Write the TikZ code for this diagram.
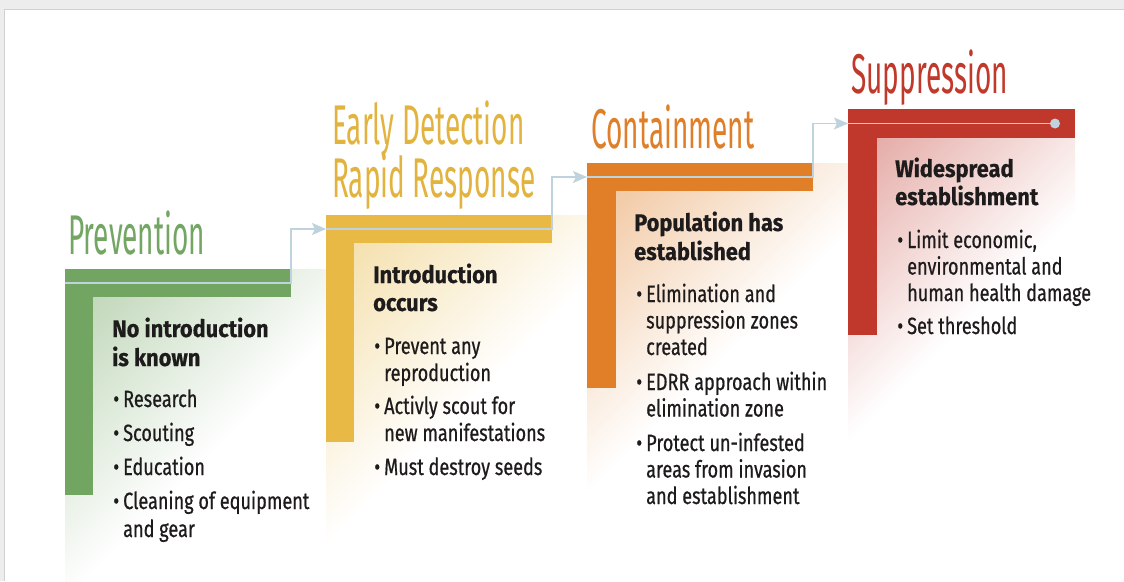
\documentclass[tikz,border=0pt]{standalone}
\usepackage{fontspec}
\usetikzlibrary{arrows.meta}
\newfontfamily\titlefont[FakeStretch=0.5]{Fira Sans}
\newfontfamily\bodyfont[FakeStretch=0.77,FakeBold=0.6]{Fira Sans}
\newfontfamily\headfont[FakeStretch=0.91,FakeBold=0.5]{Fira Sans}
\definecolor{cgreen}{HTML}{72A562}
\definecolor{cyellow}{HTML}{E8B944}
\definecolor{corange}{HTML}{E07F27}
\definecolor{cred}{HTML}{C0372B}
\definecolor{tgreen}{HTML}{73A663}
\definecolor{tyellow}{HTML}{E2B33F}
\definecolor{torange}{HTML}{DF7F2A}
\definecolor{tred}{HTML}{C1392B}
\definecolor{cline}{HTML}{BFD3DF}
\definecolor{ctext}{HTML}{1E1B1C}
\newcommand\mlines[2]{\vtop{\baselineskip=#1\relax\lineskiplimit=-20pt\relax #2}}
\newcommand\bul{\llap{•\hspace{4pt}}}
\newcommand\fadeRegion[5]{%
  \begin{scope}
    \clip (#2,#3) rectangle (#4,#5);
    \begin{scope}[transform canvas={shift={(#2,#3)},rotate=-45}]
      \shade[left color=#1, right color=white] (0,-700) rectangle (235,700);
    \end{scope}
  \end{scope}}
\tikzset{
  band/.style={fill=#1, draw=none, inner sep=0pt, outer sep=0pt, anchor=north west},
  titletext/.style={font=\titlefont\fontsize{56}{60}\selectfont, text=#1, inner sep=0pt, anchor=base west},
  headtext/.style={font=\headfont\bfseries\fontsize{24}{29}\selectfont, text=ctext, inner sep=0pt, anchor=base west},
  bodytext/.style={font=\bodyfont\fontsize{23.5}{28}\selectfont, text=ctext, inner sep=0pt, anchor=base west},
  conn/.style={draw=cline, line width=1.8pt},
  connarrow/.style={conn, -{Stealth[length=14pt,width=12pt,inset=3pt]}}
}
\begin{document}
\begin{tikzpicture}[x=1pt,y=-1pt]
\useasboundingbox (0,0) rectangle (1124,581);
\fill[black!7] (0,0) rectangle (1124,581);
\fill[white] (4,9) rectangle (1124,581);
\draw[black!18, line width=1pt] (4,581) -- (4,9) -- (1124,9);

% soft gradient areas
\fadeRegion{cgreen!52!white}{65}{269}{326}{581}
\fadeRegion{cyellow!52!white}{326}{215}{587}{581}
\fadeRegion{corange!50!white}{587}{163}{848}{581}
\fadeRegion{cred!50!white}{848}{109}{1075}{581}

% L-shaped bands
\node[band=cgreen, minimum width=28pt, minimum height=226pt] (gvband) at (65,269) {};
\node[band=cgreen, minimum width=226pt, minimum height=28pt] (gband) at (65,269) {};
\node[band=cyellow, minimum width=28pt, minimum height=227pt] (yvband) at (326,215) {};
\node[band=cyellow, minimum width=226pt, minimum height=28pt] (yband) at (326,215) {};
\node[band=corange, minimum width=29pt, minimum height=225pt] (ovband) at (587,163) {};
\node[band=corange, minimum width=226pt, minimum height=28pt] (oband) at (587,163) {};
\node[band=cred, minimum width=29pt, minimum height=226pt] (rvband) at (848,109) {};
\node[band=cred, minimum width=227pt, minimum height=29pt] (rband) at (848,109) {};

% connector
\node[circle, fill=cline, minimum size=10pt, inner sep=0pt] (dot) at (1055,123.5) {};
\draw[connarrow] (gband.west) -- (gband.east) |- (yband.west);
\draw[connarrow] (yband.west) -- (yband.east) |- (oband.west);
\draw[connarrow] (oband.west) -- (oband.east) |- (rband.west);
\draw[conn] (rband.west) -- (dot.center);

% titles
\node[titletext=tgreen] (tprev) at (68,254) {Prevention};
\node[titletext=tyellow] (tedrr1) at (332,144) {Early Detection};
\node[titletext=tyellow] (tedrr2) at (332,197) {Rapid Response};
\node[titletext=torange] (tcont) at (591,148) {Containment};
\node[titletext=tred] (tsupp) at (851,93) {Suppression};

% green block text
\node[headtext] (gh) at (112,337) {\mlines{29pt}{\hbox{No introduction}\hbox{is known}}};
\node[bodytext] (g1) at (123,407) {\bul Research};
\node[bodytext] (g2) at (123,441) {\bul Scouting};
\node[bodytext] (g3) at (123,475) {\bul Education};
\node[bodytext] (g4) at (123,509) {\mlines{28pt}{\hbox{\bul Cleaning of equipment}\hbox{and gear}}};

% yellow block text
\node[headtext] (yh) at (373,283) {\mlines{28pt}{\hbox{Introduction}\hbox{occurs}}};
\node[bodytext] (y1) at (384,354) {\mlines{27pt}{\hbox{\bul Prevent any}\hbox{reproduction}}};
\node[bodytext] (y2) at (384,414) {\mlines{27pt}{\hbox{\bul Activly scout for}\hbox{new manifestations}}};
\node[bodytext] (y3) at (384,475) {\bul Must destroy seeds};

% orange block text
\node[headtext] (oh) at (634,231) {\mlines{29pt}{\hbox{Population has}\hbox{established}}};
\node[bodytext] (o1) at (646,302) {\mlines{26.5pt}{\hbox{\bul Elimination and}\hbox{suppression zones}\hbox{created}}};
\node[bodytext] (o2) at (646,390) {\mlines{26.5pt}{\hbox{\bul EDRR approach within}\hbox{elimination zone}}};
\node[bodytext] (o3) at (646,451) {\mlines{26.5pt}{\hbox{\bul Protect un-infested}\hbox{areas from invasion}\hbox{and establishment}}};

% red block text
\node[headtext] (rh) at (895,177) {\mlines{28pt}{\hbox{Widespread}\hbox{establishment}}};
\node[bodytext] (r1) at (907,248) {\mlines{26.5pt}{\hbox{\bul Limit economic,}\hbox{environmental and}\hbox{human health damage}}};
\node[bodytext] (r2) at (907,334) {\bul Set threshold};
\end{tikzpicture}
\end{document}
